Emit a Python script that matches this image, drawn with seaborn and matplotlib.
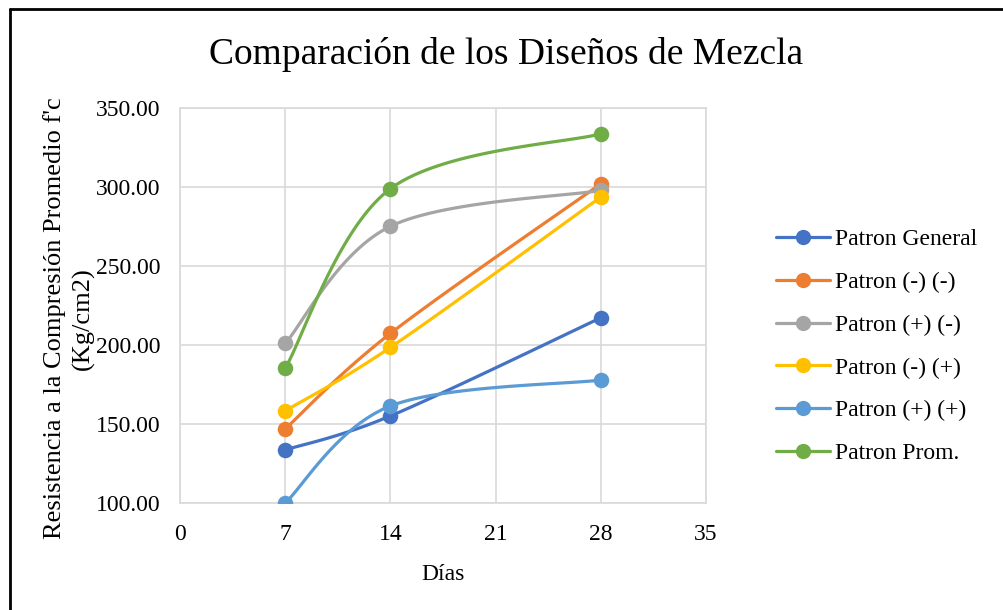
import numpy as np
import pandas as pd
import matplotlib
matplotlib.use("Agg")
import matplotlib.pyplot as plt
from matplotlib.lines import Line2D
import seaborn as sns

# Ages (days) and average compressive strength per mix design
dias = [7, 14, 28]
patron_general = [133.6, 155.1, 217.2]
patron_mm = [146.9, 207.3, 302.0]
patron_pm = [201.0, 275.1, 297.8]
patron_mp = [158.3, 198.5, 293.6]
patron_pp = [100.0, 161.4, 177.8]
patron_prom = [185.2, 298.9, 333.6]

series_names = ["Patron General", "Patron (-) (-)", "Patron (+) (-)",
                "Patron (-) (+)", "Patron (+) (+)", "Patron Prom."]
series_values = [patron_general, patron_mm, patron_pm, patron_mp, patron_pp, patron_prom]
colors = ["#4472C4", "#ED7D31", "#A5A5A5", "#FFC000", "#5B9BD5", "#70AD47"]

x_ticks = [0, 7, 14, 21, 28, 35]
y_ticks = [100, 150, 200, 250, 300, 350]

sns.set_theme(style="white")
plt.rcParams["font.family"] = ["Liberation Serif", "DejaVu Serif"]
plt.rcParams["text.color"] = "black"
plt.rcParams["axes.labelcolor"] = "black"

fig = plt.figure(figsize=(10.04, 6.10), dpi=100)
ax = fig.add_axes([0.1793, 0.1754, 0.5239, 0.6476])

XMIN, XMAX, YMIN, YMAX = 0, 35, 100, 350
# approximate screen scale (px per unit) so smoothing behaves like on screen
sx = 526 / (XMAX - XMIN)
sy = 395 / (YMAX - YMIN)


def smooth_curve(xs, ys, n=40):
    """Cardinal (Catmull-Rom) Bezier smoothing computed in screen space."""
    P = np.column_stack([np.asarray(xs, float) * sx, np.asarray(ys, float) * sy])
    m = len(P)
    out = []
    for i in range(m - 1):
        p0 = P[max(i - 1, 0)]
        p1 = P[i]
        p2 = P[i + 1]
        p3 = P[min(i + 2, m - 1)]
        c1 = p1 + (p2 - p0) / 6.0
        c2 = p2 - (p3 - p1) / 6.0
        t = np.linspace(0, 1, n)[:, None]
        seg = ((1 - t) ** 3) * p1 + 3 * ((1 - t) ** 2) * t * c1 + 3 * (1 - t) * t ** 2 * c2 + t ** 3 * p2
        if i > 0:
            seg = seg[1:]
        out.append(seg)
    out = np.vstack(out)
    return out[:, 0] / sx, out[:, 1] / sy


for name, vals, col in zip(series_names, series_values, colors):
    cx, cy = smooth_curve(dias, vals)
    curve = pd.DataFrame({"x": cx, "y": cy})
    sns.lineplot(data=curve, x="x", y="y", sort=False, color=col, lw=2.3,
                 ax=ax, zorder=3)
    pts = pd.DataFrame({"x": dias, "y": vals})
    sns.scatterplot(data=pts, x="x", y="y", color=col, s=125, edgecolor=col,
                    linewidth=0, ax=ax, zorder=4)

ax.set_xlim(XMIN, XMAX)
ax.set_ylim(YMIN, YMAX)
ax.set_xticks(x_ticks)
ax.set_yticks(y_ticks)
ax.set_yticklabels([f"{v:.2f}" for v in y_ticks])
ax.grid(True, color="#D9D9D9", lw=1.2)
ax.set_axisbelow(True)
for s in ax.spines.values():
    s.set_color("#D9D9D9")
    s.set_linewidth(1.2)
ax.tick_params(axis="both", length=0, labelsize=17, colors="black")
ax.tick_params(axis="y", pad=14)
ax.tick_params(axis="x", pad=15)

ax.set_xlabel("Días", fontsize=17, labelpad=14)
ax.set_ylabel("Resistencia a la Compresión Promedio f'c\n(Kg/cm2)", fontsize=19,
              linespacing=1.3)
ax.yaxis.set_label_coords(-0.162, 0.468)

fig.text(0.5045, 0.91, "Comparación de los Diseños de Mezcla", fontsize=27,
         ha="center", va="center")

handles = [Line2D([0], [0], color=c, lw=2.3, marker="o", markersize=11,
                  markeredgewidth=0) for c in colors]
fig.legend(handles, series_names, loc="center left",
           bbox_to_anchor=(0.773, 0.432), frameon=False, fontsize=17,
           handlelength=2.3, handletextpad=0.2, labelspacing=0.9,
           borderpad=0, borderaxespad=0)

# chart border (top and left edges)
fig.add_artist(Line2D([0.0095, 1.0], [0.9852, 0.9852], transform=fig.transFigure,
                      color="black", lw=2.0))
fig.add_artist(Line2D([0.0095, 0.0095], [0.0, 0.9852], transform=fig.transFigure,
                      color="black", lw=2.0))

fig.savefig("out.png", dpi=100, facecolor="white")
